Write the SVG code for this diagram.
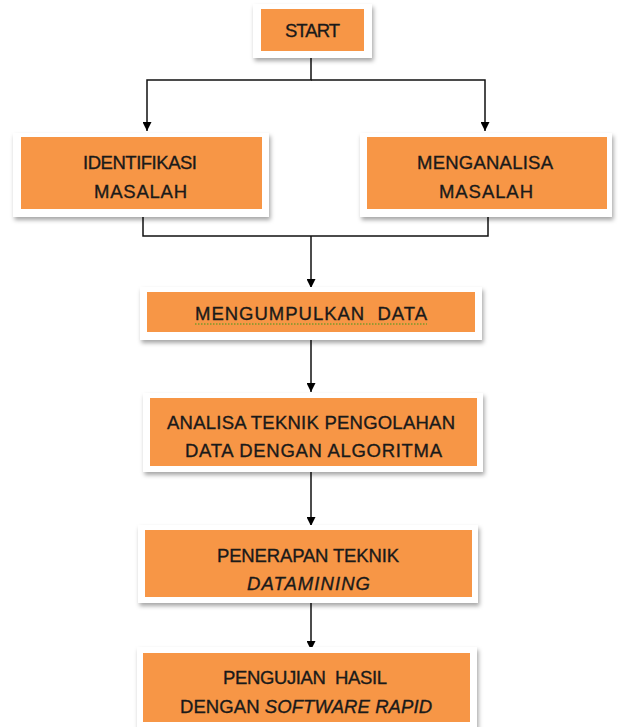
<svg xmlns="http://www.w3.org/2000/svg" width="618" height="727" viewBox="0 0 618 727">
<defs>
<filter id="sh" x="-10%" y="-10%" width="125%" height="140%">
<feDropShadow dx="1.5" dy="3" stdDeviation="2" flood-color="#000" flood-opacity="0.35"/>
</filter>
<marker id="arr" viewBox="0 0 10 10" refX="10" refY="5" markerWidth="9" markerHeight="9" markerUnits="userSpaceOnUse" orient="auto">
<path d="M0,0 L10,5 L0,10 z" fill="#000"/>
</marker>
<style>
.outer{fill:#fff;filter:url(#sh)}
.fill{fill:#F79646}
.t{font-family:"Liberation Sans",Arial,sans-serif;font-size:18.5px;fill:#1a1a1a;stroke:#1a1a1a;stroke-width:0.35;text-anchor:middle}
.i{font-style:italic}
.c{fill:none;stroke:#111;stroke-width:1.5}
</style>
</defs>
<rect width="618" height="727" fill="#fff"/>
<g id="connectors">
<polyline class="c" points="311,51 311,80 147,80 147,131" marker-end="url(#arr)"/>
<polyline class="c" points="311,80 485,80 485,131" marker-end="url(#arr)"/>
<polyline class="c" points="143,209 143,236 488,236 488,209"/>
<line class="c" x1="311" y1="236" x2="311" y2="288" marker-end="url(#arr)"/>
<line class="c" x1="311" y1="332" x2="311" y2="392" marker-end="url(#arr)"/>
<line class="c" x1="311" y1="466" x2="311" y2="526" marker-end="url(#arr)"/>
<line class="c" x1="311" y1="597" x2="311" y2="650" marker-end="url(#arr)"/>
</g>
<g id="start">
<rect class="outer" x="253" y="4" width="119" height="54"/>
<rect class="fill" x="261" y="9" width="103" height="42"/>
<text class="t" x="312.5" y="37" textLength="55">START</text>
</g>
<g id="identifikasi">
<rect class="outer" x="13" y="133" width="256" height="84"/>
<rect class="fill" x="21" y="137" width="241" height="72"/>
<text class="t" x="140" y="169" textLength="114">IDENTIFIKASI</text>
<text class="t" x="140.5" y="198" textLength="93">MASALAH</text>
</g>
<g id="menganalisa">
<rect class="outer" x="360" y="133" width="252" height="84"/>
<rect class="fill" x="367" y="137" width="240" height="72"/>
<text class="t" x="485" y="169" textLength="136">MENGANALISA</text>
<text class="t" x="486" y="198" textLength="94">MASALAH</text>
</g>
<g id="mengumpulkan">
<rect class="outer" x="140" y="287" width="342" height="53"/>
<rect class="fill" x="147" y="292" width="328" height="40"/>
<text class="t" x="311" y="320" textLength="232" xml:space="preserve">MENGUMPULKAN  DATA</text>
<line x1="195" y1="324" x2="427" y2="324" stroke="#3c9a1e" stroke-width="1" stroke-dasharray="1.5,1.5"/>
</g>
<g id="analisa">
<rect class="outer" x="143" y="393" width="340" height="79"/>
<rect class="fill" x="150" y="398" width="327" height="68"/>
<text class="t" x="311" y="429" textLength="288">ANALISA TEKNIK PENGOLAHAN</text>
<text class="t" x="313.5" y="457" textLength="257">DATA DENGAN ALGORITMA</text>
</g>
<g id="penerapan">
<rect class="outer" x="138" y="525" width="340" height="78"/>
<rect class="fill" x="145" y="530" width="327" height="67"/>
<text class="t" x="308" y="562" textLength="182">PENERAPAN TEKNIK</text>
<text class="t i" x="308.5" y="590" textLength="123">DATAMINING</text>
</g>
<g id="pengujian">
<rect class="outer" x="137" y="647" width="340" height="86"/>
<rect class="fill" x="143" y="653" width="327" height="69"/>
<text class="t" x="305" y="684" textLength="164" xml:space="preserve">PENGUJIAN  HASIL</text>
<text class="t" x="306" y="713" textLength="252">DENGAN <tspan class="i">SOFTWARE RAPID</tspan></text>
</g>
</svg>
